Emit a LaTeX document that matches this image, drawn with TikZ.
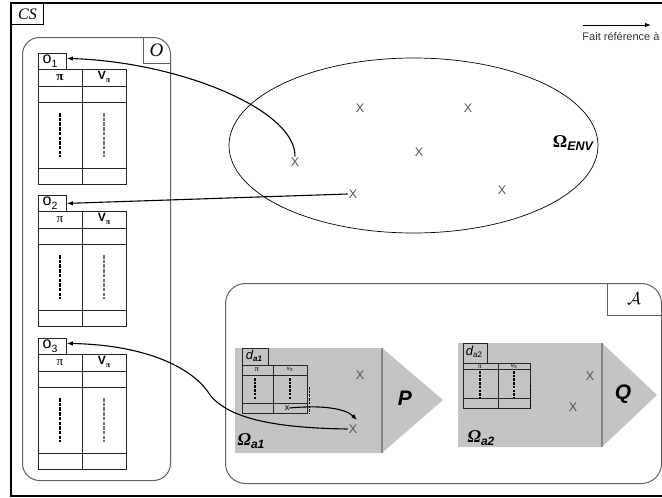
\documentclass[tikz,border=0pt]{standalone}
\usepackage{fontspec}
\setmainfont{Liberation Serif}
\setsansfont{Liberation Sans}
\usetikzlibrary{arrows.meta,shapes.geometric}
\definecolor{graybg}{RGB}{196,196,196}
\definecolor{grayln}{RGB}{135,135,135}
\definecolor{frameln}{RGB}{95,95,95}
\definecolor{xgray}{RGB}{85,85,85}
\newcommand\objtab[4]{%
\node[tline, minimum width=28pt, minimum height=16pt, anchor=north west, inner sep=0] (#1) at (38,#2) {};
\node[inner sep=0, font=\sffamily] (#1lab) at (50,#2+8) {\fontsize{16}{16}\selectfont o\raisebox{-3.5pt}{\fontsize{10.5}{10.5}\selectfont #3}};
\draw[tline] (38,#2+16) rectangle (126,#2+131);
\draw[tline] (82,#2+16) -- (82,#2+131);
\foreach \rw in {33,49,115} \draw[tline] (38,#2+\rw) -- (126,#2+\rw);
\node[inner sep=0] (#1pi) at (60,#2+25) {\fontsize{13}{13}\selectfont #4π};
\node[inner sep=0] (#1v) at (104,#2+24) {\fontsize{12}{12}\selectfont\sffamily\bfseries V\raisebox{-2.5pt}{\fontsize{8}{8}\selectfont\rmfamily π}};
\draw[line width=1.7pt, dash pattern=on 3.5pt off 1.2pt] (60,#2+60) -- (60,#2+104);
\draw[line width=1.1pt, black!55, dash pattern=on 3.5pt off 1.2pt] (104,#2+60) -- (104,#2+104);
}
\begin{document}
\begin{tikzpicture}[x=1pt,y=-1pt,
  tline/.style={draw=black!85, line width=0.8pt},
  ref/.style={draw=black, line width=1.1pt, -{Latex[length=6pt,width=4.5pt]}},
  xmark/.style={font=\sffamily\fontsize{12.5}{12.5}\selectfont, text=xgray, inner sep=1pt},
  grp/.style={draw=frameln, line width=1pt, rounded corners=17pt, inner sep=0, anchor=north west},
  small/.style={inner sep=0, font=\sffamily}]
\useasboundingbox (0,0) rectangle (662,498);
% CS frame
\draw[line width=1.5pt] (664,3) -- (11,3) -- (11,496) -- (664,496);
\node[draw, line width=1pt, minimum width=32pt, minimum height=21pt, anchor=north west, inner sep=0] (cs) at (11,3) {\fontsize{16}{16}\selectfont\itshape CS};
% legend
\coordinate (lgA) at (583,25);
\coordinate (lgB) at (651,25);
\draw[ref, line width=1pt] (lgA) -- (lgB);
\node[inner sep=0, font=\sffamily\fontsize{11}{11}\selectfont, text=black!80] (lgt) at (621,37) {Fait référence à};
% O container
\node[grp, minimum width=148pt, minimum height=443pt] (Obox) at (22,37) {};
\draw[frameln, line width=1pt] (143,37) -- (143,63) -- (170,63);
\node[inner sep=0] (Olab) at (156.5,50) {\fontsize{19}{19}\selectfont\itshape O};
\objtab{o1}{53}{1}{\bfseries}
\objtab{o2}{195}{2}{}
\objtab{o3}{338}{3}{}
% environment
\node[draw, ellipse, line width=0.7pt, minimum width=369pt, minimum height=175pt, inner sep=0] (env) at (413.5,145.5) {};
\node[xmark] (x1) at (360,108) {X};
\node[xmark] (x2) at (468,108) {X};
\node[xmark] (x3) at (419,152) {X};
\node[xmark] (x4) at (295,162) {X};
\node[xmark] (x5) at (353,194) {X};
\node[xmark] (x6) at (502,190) {X};
\node[inner sep=0] (envlab) at (573,143) {\fontsize{18}{18}\selectfont\bfseries Ω\raisebox{-3pt}{\sffamily\itshape\fontsize{12.5}{12.5}\selectfont ENV}};
% A container
\node[grp, minimum width=436pt, minimum height=200pt, rounded corners=20pt] (Abox) at (225,283) {};
\draw[frameln, line width=1pt] (607,283) -- (607,315) -- (661,315);
\node[inner sep=0] (Alab) at (634,299) {\fontsize{19}{19}\selectfont$\mathcal{A}$};
% Omega a1
\fill[graybg] (235,348) -- (382,348) -- (443,400) -- (382,453) -- (235,453) -- cycle;
\draw[grayln, line width=1.2pt] (382,348) -- (382,453);
\node[inner sep=0, font=\sffamily\bfseries\itshape\fontsize{21}{21}\selectfont] (P) at (405,398) {P};
\node[tline, minimum width=26pt, minimum height=17pt, anchor=north west, inner sep=0] (da1) at (242,348) {};
\node[inner sep=0] (da1lab) at (254,356) {\sffamily\itshape\fontsize{13}{13}\selectfont d\raisebox{-2pt}{\bfseries\fontsize{8}{8}\selectfont a1}};
\draw[tline] (242,365) rectangle (307,413);
\draw[tline] (273,365) -- (273,413);
\draw[tline] (242,375) -- (307,375);
\draw[tline] (242,403) -- (307,403);
\node[inner sep=0] (da1pi) at (257,370) {\fontsize{8}{8}\selectfont π};
\node[inner sep=0] (da1v) at (290,369.5) {\sffamily\fontsize{6}{6}\selectfont v\raisebox{-1pt}{\rmfamily π}};
\draw[line width=1.4pt, dash pattern=on 2.5pt off 1.2pt] (255,378) -- (255,400);
\draw[line width=1.4pt, dash pattern=on 2.5pt off 1.2pt] (290,378) -- (290,400);
\draw[line width=1pt, dash pattern=on 2.5pt off 1.2pt] (309,387) -- (309,413);
\node[inner sep=0, font=\sffamily\fontsize{9}{9}\selectfont] (da1x) at (287,408) {x};
\node[xmark] (xa1) at (360,375) {X};
\node[xmark] (xa2) at (353,429) {X};
\node[inner sep=0] (oa1lab) at (251,441) {\fontsize{18}{18}\selectfont\bfseries\itshape Ω\raisebox{-3pt}{\sffamily\fontsize{12}{12}\selectfont a1}};
% Omega a2
\fill[graybg] (458,343) -- (602,343) -- (657,395) -- (602,447) -- (458,447) -- cycle;
\draw[grayln, line width=1.2pt] (602,343) -- (602,447);
\node[inner sep=0, font=\sffamily\bfseries\itshape\fontsize{21}{21}\selectfont] (Q) at (623,394) {Q};
\node[tline, minimum width=24pt, minimum height=20pt, anchor=north west, inner sep=0] (da2) at (463,343) {};
\node[inner sep=0] (da2lab) at (474,352) {\sffamily\itshape\fontsize{13}{13}\selectfont d\raisebox{-2pt}{\upshape\fontsize{8}{8}\selectfont a2}};
\draw[tline] (463,363) rectangle (530,408);
\draw[tline] (498,363) -- (498,408);
\draw[tline] (463,369.5) -- (530,369.5);
\draw[tline] (463,398) -- (530,398);
\node[inner sep=0] (da2pi) at (480,366.5) {\fontsize{7}{7}\selectfont π};
\node[inner sep=0] (da2v) at (514,366) {\sffamily\fontsize{6}{6}\selectfont v\raisebox{-1pt}{\rmfamily π}};
\draw[line width=1.4pt, dash pattern=on 2.5pt off 1.2pt] (480,371) -- (480,397);
\draw[line width=1.4pt, dash pattern=on 2.5pt off 1.2pt] (514,371) -- (514,397);
\draw[line width=1pt, dash pattern=on 2.5pt off 1.2pt] (530,385) -- (530,409);
\node[xmark] (xb1) at (590,376) {X};
\node[xmark] (xb2) at (573,407) {X};
\node[inner sep=0] (oa2lab) at (481,438) {\fontsize{18}{18}\selectfont\bfseries\itshape Ω\raisebox{-3pt}{\sffamily\fontsize{12}{12}\selectfont a2}};
% connectors
\draw[ref] (x4.north) .. controls (296,110) and (180,62) .. ([yshift=3pt]o1.east);
\draw[ref] (x5.west) -- (o2.east);
\draw[ref] (xa2.west) .. controls (280,428) and (230,420) .. (210,395) .. controls (195,370) and (150,345) .. ([yshift=3pt]o3.east);
\coordinate (a4end) at (357,420);
\draw[ref] (da1x.east) .. controls (320,405) and (345,408) .. (a4end);
\end{tikzpicture}
\end{document}
